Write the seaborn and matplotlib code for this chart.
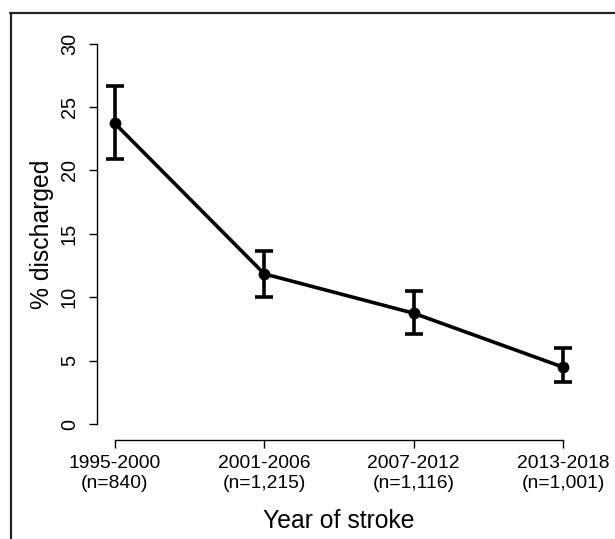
import matplotlib
matplotlib.use("Agg")
import matplotlib.pyplot as plt
from matplotlib.lines import Line2D
import seaborn as sns
import pandas as pd

# Data
periods = ["1995-2000", "2001-2006", "2007-2012", "2013-2018"]
n_labels = ["(n=840)", "(n=1,215)", "(n=1,116)", "(n=1,001)"]
pct_discharged = [23.7, 11.85, 8.75, 4.5]
ci_lower = [20.9, 10.0, 7.15, 3.3]
ci_upper = [26.65, 13.65, 10.5, 6.0]
y_ticks = [0, 5, 10, 15, 20, 25, 30]

sns.set_theme(style="white")
plt.rcParams["font.family"] = ["Liberation Sans", "DejaVu Sans"]

fig = plt.figure(figsize=(6.15, 5.39), dpi=100)
W, H = 615, 539
left_px, right_px, top_px, bottom_px = 97, 581, 28.3, 439.5
ax = fig.add_axes([left_px / W, (H - bottom_px) / H,
                   (right_px - left_px) / W, (bottom_px - top_px) / H])

xpos = list(range(1, len(periods) + 1))
df = pd.DataFrame({"x": xpos, "pct": pct_discharged})

yerr = [[p - l for p, l in zip(pct_discharged, ci_lower)],
        [u - p for p, u in zip(pct_discharged, ci_upper)]]
ax.errorbar(xpos, pct_discharged, yerr=yerr, fmt="none", ecolor="black",
            elinewidth=2.6, capsize=6.8, capthick=2.6, zorder=2)
sns.lineplot(data=df, x="x", y="pct", ax=ax, color="black", linewidth=2.6,
             marker="o", markersize=8.5, markeredgewidth=0, zorder=3)

ax.set_xlim(0.88, 4.12)
ax.set_ylim(-1.2, 31.2)
ax.set_xticks(xpos)
ax.set_xticklabels([f"{p}\n{n}" for p, n in zip(periods, n_labels)], fontsize=13.9,
                   linespacing=1.2)
ax.set_yticks(y_ticks)
ax.set_yticklabels([str(t) for t in y_ticks], fontsize=14.3, rotation=90, va="center")

for s in ["top", "right"]:
    ax.spines[s].set_visible(False)
ax.spines["left"].set_bounds(0, 30)
ax.spines["bottom"].set_bounds(1, 4)
for s in ["left", "bottom"]:
    ax.spines[s].set_linewidth(1.0)
    ax.spines[s].set_color("black")

ax.tick_params(axis="both", which="major", length=6, width=1.0, color="black",
               direction="out", labelcolor="black")
ax.tick_params(axis="x", pad=5.5)
ax.tick_params(axis="y", pad=7)
ax.xaxis.set_ticks_position("bottom")
ax.yaxis.set_ticks_position("left")

ax.set_xlabel("Year of stroke", fontsize=17.8, color="black")
ax.set_ylabel("% discharged", fontsize=17.8, color="black")
ax.xaxis.set_label_coords(0.5, -0.170)
ax.yaxis.set_label_coords(-0.088, 0.5)
ax.grid(False)

# partial frame (top and left edges)
fig.add_artist(Line2D([10 / W, 615 / W], [(H - 13) / H, (H - 13) / H],
                      transform=fig.transFigure, color="#222222", linewidth=1.6))
fig.add_artist(Line2D([10.5 / W, 10.5 / W], [(H - 13) / H, 0],
                      transform=fig.transFigure, color="#222222", linewidth=1.6))

fig.savefig("out.png", dpi=100)
